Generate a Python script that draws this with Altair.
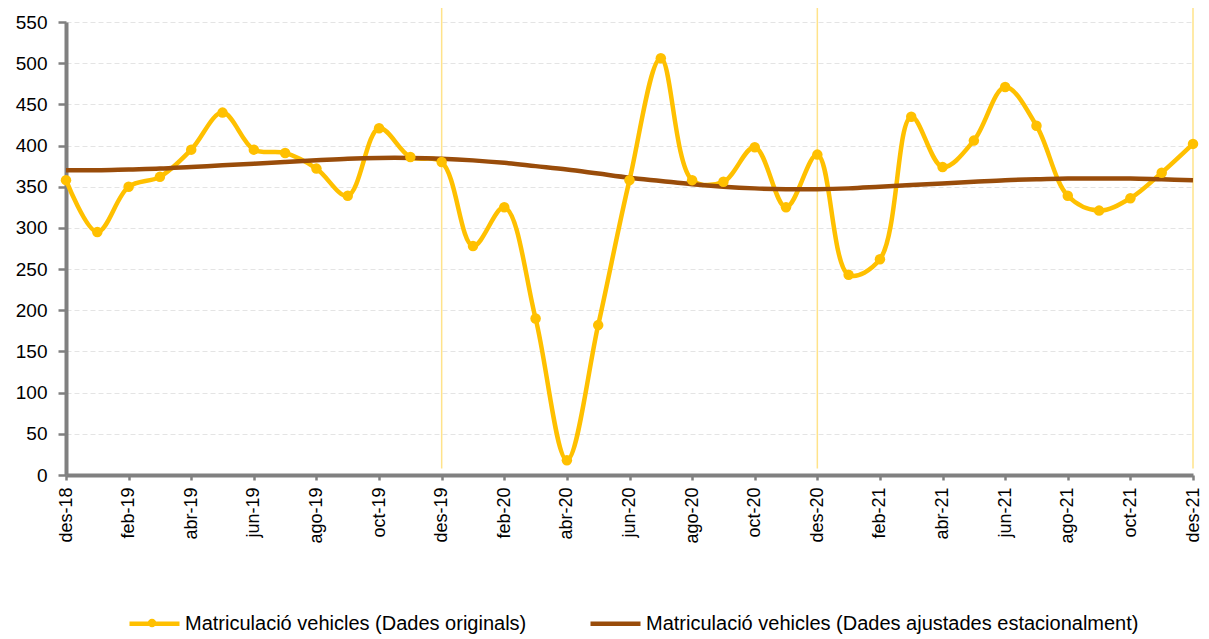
import json
import altair as alt
import pandas as pd

labels = ["des-18", "gen-19", "feb-19", "mar-19", "abr-19", "mai-19", "jun-19",
          "jul-19", "ago-19", "set-19", "oct-19", "nov-19", "des-19",
          "gen-20", "feb-20", "mar-20", "abr-20", "mai-20", "jun-20",
          "jul-20", "ago-20", "set-20", "oct-20", "nov-20", "des-20",
          "gen-21", "feb-21", "mar-21", "abr-21", "mai-21", "jun-21",
          "jul-21", "ago-21", "set-21", "oct-21", "nov-21", "des-21"]

orig = [358, 295, 350, 362, 395, 440, 395, 391, 372, 339, 421, 386, 380,
        278, 325, 190, 18, 182, 358, 506, 358, 356, 398, 325, 389,
        243, 262, 435, 374, 406, 471, 424, 339, 321, 336, 367, 402]

sa = [370, 370, 371, 372, 374, 376, 378, 380, 382, 384, 385, 385, 384,
      382, 379, 375, 371, 366, 361, 357, 353, 350, 348, 347, 347,
      348, 350, 352, 354, 356, 358, 359, 360, 360, 360, 359, 358]

year_marks = [12, 24, 36]

S1 = "Matriculació vehicles (Dades originals)"
S2 = "Matriculació vehicles (Dades ajustades estacionalment)"

YELLOW = "#FFC000"
BROWN = "#994C0A"
FONT = "Liberation Sans"

df = pd.DataFrame({"i": list(range(len(labels))), "label": labels, S1: orig, S2: sa})
rules_df = pd.DataFrame({"i": year_marks, "y1": [8] * 3, "y2": [572] * 3})

label_expr = "datum.value % 2 == 0 ? " + json.dumps(labels) + "[datum.value] : ''"

x_scale = alt.Scale(domain=[0, 36], nice=False, zero=False)
x_enc = alt.X("i:Q", scale=x_scale,
              axis=alt.Axis(values=list(range(37)), labelExpr=label_expr, labelAngle=-90,
                            labelOverlap=False, grid=False, title=None, tickSize=5,
                            labelPadding=7, labelFontSize=18))
y_scale = alt.Scale(domain=[0, 550], nice=False)

base = alt.Chart(df)

lines = base.transform_fold([S1, S2], as_=["series", "value"]).mark_line(
    interpolate="catmull-rom", strokeWidth=4.5
).encode(
    x=x_enc,
    y=alt.Y("value:Q", scale=y_scale,
            axis=alt.Axis(values=list(range(0, 551, 50)), title=None, grid=True,
                          gridDash=[5, 3], gridColor="#e4e4e4", gridWidth=1,
                          tickSize=8, labelPadding=11, labelFontSize=19)),
    color=alt.Color("series:N",
                    scale=alt.Scale(domain=[S1, S2], range=[YELLOW, BROWN]),
                    legend=alt.Legend(title=None, orient="none", direction="horizontal",
                                      legendX=61, legendY=574, symbolType="stroke",
                                      symbolStrokeWidth=4.5, symbolSize=2500,
                                      labelFontSize=20, labelFont=FONT,
                                      labelColor="black", columnPadding=54,
                                      labelOffset=3, labelLimit=700)),
    order=alt.Order("series:N", sort="descending"),
)

points = base.mark_circle(size=110, opacity=1, color=YELLOW).encode(
    x=alt.X("i:Q", scale=x_scale),
    y=alt.Y(f"{S1}:Q", scale=y_scale),
)

rules = alt.Chart(rules_df).mark_rule(color="#FFE38A", strokeWidth=1.5).encode(
    x=alt.X("i:Q", scale=x_scale),
    y=alt.Y("y1:Q", scale=y_scale),
    y2="y2:Q",
)

# marker dot on the legend symbol of the original series
legend_dot = alt.Chart(pd.DataFrame({"k": [0]})).mark_circle(
    size=70, opacity=1, color=YELLOW
).encode(x=alt.value(86), y=alt.value(601))

chart = alt.layer(rules, lines, points, legend_dot).properties(
    width=1127, height=453,
    background="white",
    autosize=alt.AutoSizeParams(type="none"),
    padding={"left": 58, "top": 14, "right": 8, "bottom": 164},
).configure_view(stroke=None).configure_axis(
    domainColor="#808080", domainWidth=4, tickColor="#808080", tickWidth=2.5,
    labelFont=FONT, labelColor="black",
)

chart.save("out.html", embed_options={"renderer": "svg", "actions": False})
